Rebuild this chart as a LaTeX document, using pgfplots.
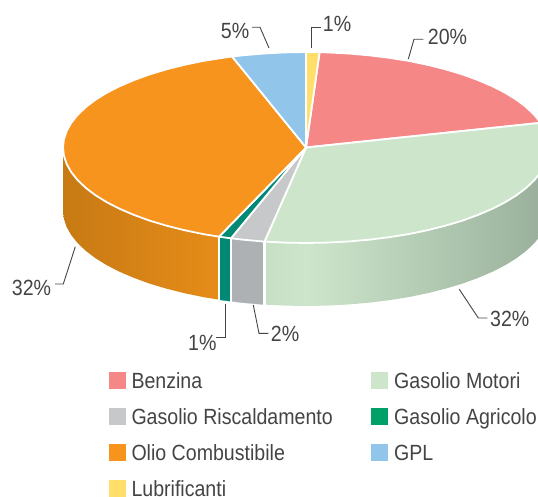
\documentclass[border=0pt]{standalone}
\usepackage{pgfplots}
\usepackage{fontspec}
\pgfplotsset{compat=1.18}
\setmainfont{Liberation Sans}[FakeStretch=0.89]
\definecolor{cPink}{HTML}{F58787}
\definecolor{cGreen}{HTML}{CDE6CB}
\definecolor{cGreenD}{HTML}{9AB09C}
\definecolor{cGreenM}{HTML}{C7E0C5}
\definecolor{cGray}{HTML}{C6C8CA}
\definecolor{cGrayS}{HTML}{AEB1B4}
\definecolor{cTeal}{HTML}{008A76}
\definecolor{cTealL}{HTML}{00A068}
\definecolor{cOrange}{HTML}{F7941E}
\definecolor{cOrangeD}{HTML}{C77A14}
\definecolor{cOrangeL}{HTML}{E68C19}
\definecolor{cBlue}{HTML}{92C5EA}
\definecolor{cYellow}{HTML}{FFDE6A}
\definecolor{cText}{HTML}{444444}
\pgfplotsset{
  S/.style={fill=#1,draw=#1,line width=0.3pt},
  T/.style={fill=#1,draw=white,line width=1.8pt,line join=round},
  L/.style={draw=cText,line width=0.9pt,line join=miter},
  K/.style={fill=#1,draw=none}
}
\tikzset{N/.style={text=cText,inner sep=0pt,anchor=base west,font=\fontsize{22}{26}\selectfont}}
\begin{document}
\begin{tikzpicture}
\begin{axis}[axis line style={draw=none},ticks=none,scale only axis,width=538pt,height=497pt,
  xmin=0,xmax=538,ymin=0,ymax=497,y dir=reverse]
% orange side
\addplot[draw=none,left color=cOrangeD,right color=cOrangeL] coordinates {(63,147.5)(63.9,155.8)(66.7,164.1)(71.3,172.2)(77.7,180.2)(85.8,187.9)(95.6,195.3)(106.9,202.3)(119.9,208.9)(134.2,215)(149.8,220.7)(166.6,225.7)(184.5,230.2)(203.3,234.1)(219,236.7)(219,299.7)(203.3,297.1)(184.5,293.2)(166.6,288.7)(149.8,283.7)(134.2,278)(119.9,271.9)(106.9,265.3)(95.6,258.3)(85.8,250.9)(77.7,243.2)(71.3,235.2)(66.7,227.1)(63.9,218.8)(63,210.5)} -- cycle;
% teal and gray side
\addplot[S=cTeal] coordinates {(219,236.7)(231,238.3)(231,301.3)(219,299.7)} -- cycle;
\addplot[S=cGrayS] coordinates {(231,238.3)(243.1,239.7)(264.5,241.6)(264.5,304.6)(243.1,302.7)(231,301.3)} -- cycle;
% green side, lightest near x=306
\addplot[draw=none,left color=cGreenM,right color=cGreen] coordinates {(264.5,241.6)(284.8,242.6)(307,243)(307,306)(284.8,305.6)(264.5,304.6)} -- cycle;
\addplot[draw=none,left color=cGreen,right color=cGreenD] coordinates {(306,243)(327.2,242.6)(348.2,241.5)(368.9,239.7)(389.1,237.2)(408.7,234.1)(427.5,230.2)(445.4,225.7)(462.2,220.7)(477.8,215)(492.1,208.9)(505.1,202.3)(516.4,195.3)(526.2,187.9)(534.3,180.2)(540.7,172.2)(540.7,235.2)(534.3,243.2)(526.2,250.9)(516.4,258.3)(505.1,265.3)(492.1,271.9)(477.8,278)(462.2,283.7)(445.4,288.7)(427.5,293.2)(408.7,297.1)(389.1,300.2)(368.9,302.7)(348.2,304.5)(327.2,305.6)(306,306)} -- cycle;
% white seams on the side
\addplot[draw=white,line width=2.2pt] coordinates {(219,236.7)(219,301.5)};
\addplot[draw=white,line width=2.2pt] coordinates {(231,238.3)(231,303.2)};
\addplot[draw=white,line width=2.2pt] coordinates {(264.5,241.6)(264.5,306.5)};
% top sectors
\addplot[T=cPink] coordinates {(306,147.5)(319.6,52.1)(327.2,52.4)(348.2,53.5)(368.9,55.3)(389.1,57.8)(408.7,60.9)(427.5,64.8)(445.4,69.3)(462.2,74.3)(477.8,80)(492.1,86.1)(505.1,92.7)(516.4,99.7)(526.2,107.1)(534.3,114.8)(540.7,122.8)} -- cycle;
\addplot[T=cGreen] coordinates {(306,147.5)(540.7,122.8)(545.3,130.9)(548.1,139.2)(549,147.5)(548.1,155.8)(545.3,164.1)(540.7,172.2)(534.3,180.2)(526.2,187.9)(516.4,195.3)(505.1,202.3)(492.1,208.9)(477.8,215)(462.2,220.7)(445.4,225.7)(427.5,230.2)(408.7,234.1)(389.1,237.2)(368.9,239.7)(348.2,241.5)(327.2,242.6)(306,243)(284.8,242.6)(264.5,241.6)} -- cycle;
\addplot[T=cGray] coordinates {(306,147.5)(264.5,241.6)(243.1,239.7)(231,238.3)} -- cycle;
\addplot[T=cTeal] coordinates {(306,147.5)(231,238.3)(219,236.7)} -- cycle;
\addplot[T=cOrange] coordinates {(306,147.5)(219,236.7)(203.3,234.1)(184.5,230.2)(166.6,225.7)(149.8,220.7)(134.2,215)(119.9,208.9)(106.9,202.3)(95.6,195.3)(85.8,187.9)(77.7,180.2)(71.3,172.2)(66.7,164.1)(63.9,155.8)(63,147.5)(63.9,139.2)(66.7,130.9)(71.3,122.8)(77.7,114.8)(85.8,107.1)(95.6,99.7)(106.9,92.7)(119.9,86.1)(134.2,80)(149.8,74.3)(166.6,69.3)(184.5,64.8)(203.3,60.9)(222.9,57.8)(232.1,56.5)} -- cycle;
\addplot[T=cBlue] coordinates {(306,147.5)(232.1,56.5)(243.1,55.3)(263.8,53.5)(284.8,52.4)(306,52)} -- cycle;
\addplot[T=cYellow] coordinates {(306,147.5)(306,52)(319.6,52.1)} -- cycle;
% leader lines
\addplot[L] coordinates {(252,27.3)(260,27.3)(269,48)};
\addplot[L] coordinates {(321,27.7)(311.7,27.7)(311.7,47.7)};
\addplot[L] coordinates {(423.3,39.3)(414,39.3)(408.3,59)};
\addplot[L] coordinates {(75.3,246.7)(63.3,284)(55,284)};
\addplot[L] coordinates {(225,304)(225,337.3)(216,337.3)};
\addplot[L] coordinates {(253.3,305)(259,333.3)(268.3,333.3)};
\addplot[L] coordinates {(459.3,289.3)(478.3,318)(487.3,318)};
% legend swatches
\addplot[K=cPink] coordinates {(109,372)(126,372)(126,389)(109,389)} -- cycle;
\addplot[K=cGreen] coordinates {(371,372)(388,372)(388,389)(371,389)} -- cycle;
\addplot[K=cGray] coordinates {(109,408)(126,408)(126,425)(109,425)} -- cycle;
\addplot[K=cTealL] coordinates {(371,408)(388,408)(388,425)(371,425)} -- cycle;
\addplot[K=cOrange] coordinates {(109,444)(126,444)(126,461)(109,461)} -- cycle;
\addplot[K=cBlue] coordinates {(371,444)(388,444)(388,461)(371,461)} -- cycle;
\addplot[K=cYellow] coordinates {(109,480)(126,480)(126,497)(109,497)} -- cycle;
% percent labels
\node[N] at (axis cs:220.7,39) {5\%};
\node[N] at (axis cs:322.7,32) {1\%};
\node[N] at (axis cs:427.7,45) {20\%};
\node[N] at (axis cs:11.7,295) {32\%};
\node[N] at (axis cs:188,350) {1\%};
\node[N] at (axis cs:270.7,341) {2\%};
\node[N] at (axis cs:490,326) {32\%};
% legend labels
\node[N] at (axis cs:131.3,388.5) {Benzina};
\node[N] at (axis cs:394,388.5) {Gasolio Motori};
\node[N] at (axis cs:131.3,424.5) {Gasolio Riscaldamento};
\node[N] at (axis cs:394,424.5) {Gasolio Agricolo};
\node[N] at (axis cs:131.3,460.5) {Olio Combustibile};
\node[N] at (axis cs:394,460.5) {GPL};
\node[N] at (axis cs:131.3,496) {Lubrificanti};
\end{axis}
\end{tikzpicture}
\end{document}
